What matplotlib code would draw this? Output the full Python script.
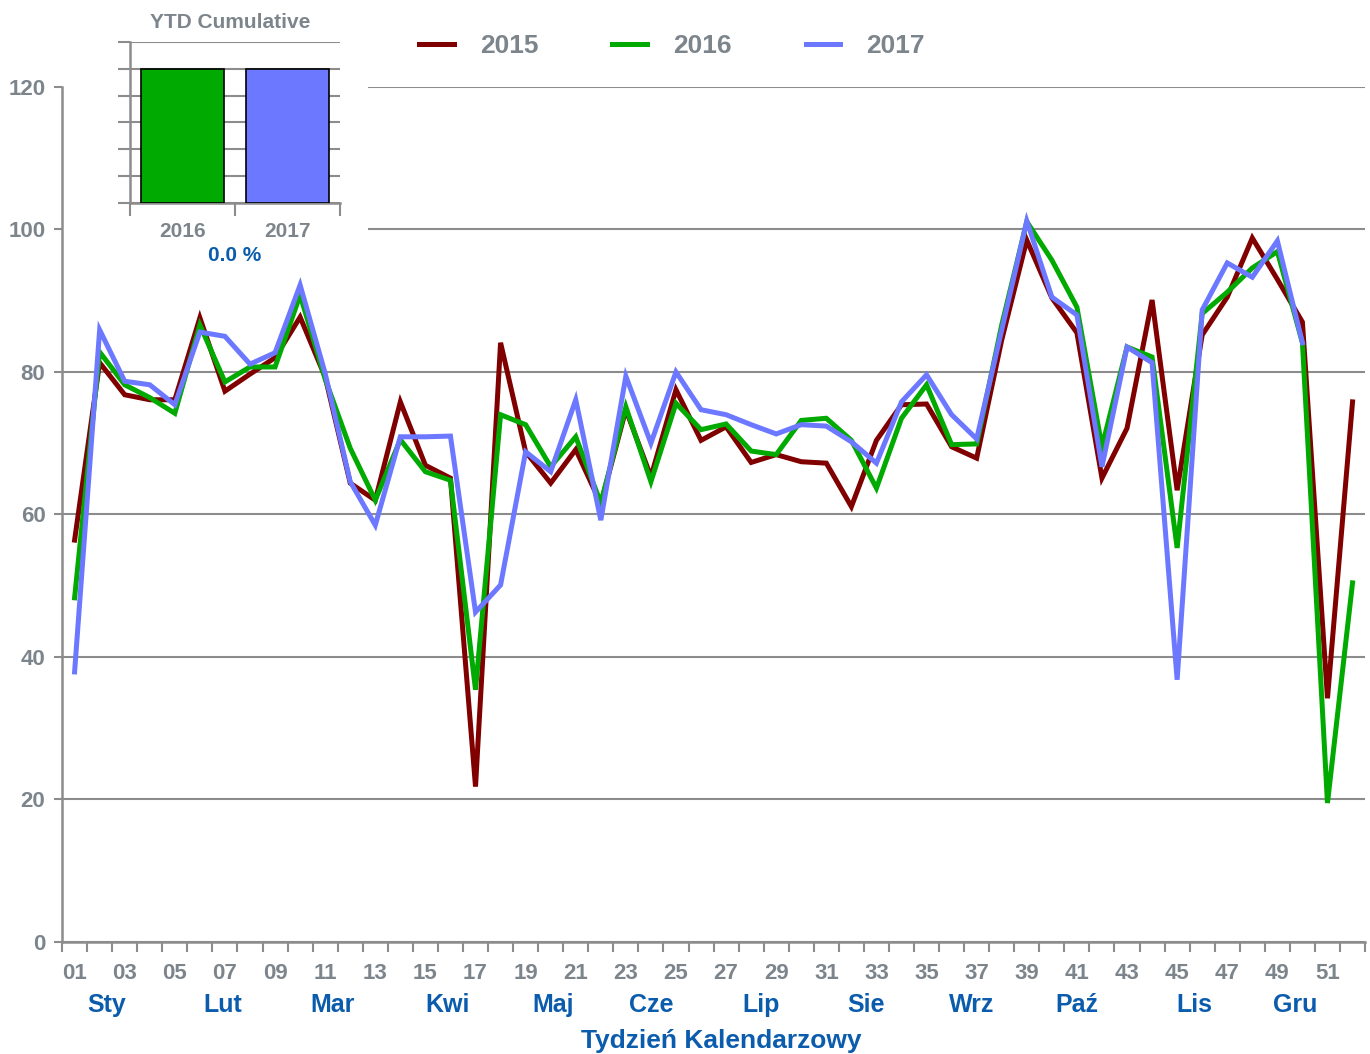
import matplotlib
matplotlib.use("Agg")
import matplotlib.pyplot as plt
from matplotlib import font_manager
from matplotlib.patches import Rectangle
import numpy as np

# weekly values (None = no data yet)
weeks = list(range(1, 53))
y2015 = [56.4, 81.3, 76.8, 76.1, 76.1, 87.6, 77.3, 79.7, 82.0, 87.7,
         79.3, 64.4, 62.0, 75.8, 66.9, 65.1, 21.8, 84.1, 68.8, 64.4,
         69.1, 61.5, 74.7, 65.3, 77.5, 70.4, 72.3, 67.3, 68.4, 67.4,
         67.2, 61.1, 70.4, 75.4, 75.5, 69.5, 67.9, 84.5, 98.5, 90.4,
         85.5, 65.1, 72.1, 90.1, 63.4, 85.2, 90.5, 98.8, 93.0, 87.0,
         34.2, 75.8]
y2016 = [48.3, 82.8, 78.2, 76.4, 74.2, 86.6, 78.6, 80.7, 80.7, 90.8,
         79.0, 69.3, 62.0, 70.5, 66.0, 64.8, 35.4, 74.0, 72.6, 66.7,
         70.9, 61.6, 75.1, 64.6, 75.6, 71.9, 72.7, 68.9, 68.4, 73.2,
         73.5, 70.4, 63.7, 73.5, 78.2, 69.8, 69.9, 86.6, 101.1, 95.7,
         89.1, 69.5, 83.5, 82.1, 55.3, 88.2, 91.2, 94.6, 96.9, 84.1,
         19.5, 50.4]
y2017 = [37.9, 85.9, 78.7, 78.2, 75.4, 85.6, 85.0, 81.1, 82.7, 92.2,
         79.8, 64.6, 58.5, 70.9, 70.9, 71.0, 46.3, 50.1, 68.8, 66.0,
         76.1, 59.2, 79.4, 70.0, 80.0, 74.7, 74.0, 72.6, 71.3, 72.6,
         72.4, 70.2, 67.2, 75.8, 79.6, 74.0, 70.6, 85.9, 101.2, 90.5,
         88.0, 66.7, 83.5, 81.3, 36.8, 88.7, 95.3, 93.3, 98.4, 84.1,
         None, None]

months = ["Sty", "Lut", "Mar", "Kwi", "Maj", "Cze", "Lip", "Sie", "Wrz", "Paź", "Lis", "Gru"]
month_pos = [2.3, 6.9, 11.3, 15.9, 20.1, 24.0, 28.4, 32.6, 36.8, 41.0, 45.7, 49.7]

ytd_labels = ["2016", "2017"]
ytd_values = [5.0, 5.0]
ytd_change = "0.0 %"

c2015 = "#800000"
c2016 = "#00aa00"
c2017 = "#6b78ff"
gray_txt = "#7d858c"
gray_ln = "#8c8c8c"
blue_txt = "#0b5cad"

names = {f.name for f in font_manager.fontManager.ttflist}
narrow = "Liberation Sans"
for cand in ["Liberation Sans Narrow", "DejaVu Sans Condensed"]:
    if cand in names:
        narrow = cand
        break
plt.rcParams["font.family"] = ["Liberation Sans", "DejaVu Sans"]
plt.rcParams["font.weight"] = "bold"

fig = plt.figure(figsize=(13.7, 10.54), dpi=100)
ax = fig.add_axes([0.0453, 0.1063, 0.9511, 0.8112])

def arr(v):
    return np.array([np.nan if x is None else x for x in v], dtype=float)

for vals, col, lab in [(y2015, c2015, "2015"), (y2016, c2016, "2016"), (y2017, c2017, "2017")]:
    ax.plot(weeks, arr(vals), color=col, lw=3.6, label=lab, zorder=3,
            solid_joinstyle="miter")

ax.set_xlim(0.5, 52.5)
ax.set_ylim(0, 120)
ax.set_axisbelow(True)
ax.yaxis.grid(True, color=gray_ln, lw=1.5)
ax.set_yticks(range(0, 121, 20))
for s in ["top", "right"]:
    ax.spines[s].set_visible(False)
for s in ["left", "bottom"]:
    ax.spines[s].set_color(gray_ln)
    ax.spines[s].set_linewidth(1.8)

ax.tick_params(axis="y", length=6, width=1.5, color=gray_ln, labelcolor=gray_txt,
               labelsize=16, pad=6)
odd = [w for w in weeks if w % 2 == 1]
ax.set_xticks(odd)
ax.set_xticklabels([f"{w:02d}" for w in odd], fontfamily=narrow, fontsize=16,
                   fontweight="bold", color=gray_txt)
ax.tick_params(axis="x", which="major", length=0, pad=15)
ax.set_xticks(np.arange(0.5, 53, 1), minor=True)
ax.tick_params(axis="x", which="minor", length=7, width=1.5, color=gray_ln)

for m, p in zip(months, month_pos):
    ax.text(p, -8.8, m, ha="center", va="center", fontsize=18, fontweight="bold",
            color=blue_txt, fontfamily=narrow)
ax.text(26.8, -13.9, "Tydzień Kalendarzowy", ha="center", va="center", fontsize=19,
        fontweight="bold", color=blue_txt, fontfamily=narrow)

# white area behind the inset
ax.add_patch(Rectangle((0.5, 95.5), 12.2, 25, facecolor="white", edgecolor="none",
                       zorder=1, clip_on=False))

ax.legend(loc="center", bbox_to_anchor=(0.4905, 0.956), bbox_transform=fig.transFigure,
          ncol=3, frameon=False, fontsize=19, handlelength=1.3, handletextpad=1.0,
          columnspacing=2.8, labelcolor=gray_txt)

# inset YTD bar chart
ins = fig.add_axes([0.0949, 0.8074, 0.1533, 0.1528])
ins.bar([0, 1], ytd_values, width=0.79, color=[c2016, c2017], edgecolor="black",
        linewidth=1.2, zorder=3)
ins.set_xlim(-0.5, 1.5)
ins.set_ylim(0, 6)
ins.set_yticks(range(0, 7))
ins.set_yticklabels([])
ins.set_axisbelow(True)
ins.yaxis.grid(True, color=gray_ln, lw=1.5)
ins.tick_params(axis="y", length=9, width=1.5, color=gray_ln)
ins.set_xticks([0, 1])
ins.set_xticklabels(ytd_labels, fontsize=15, fontweight="bold", color=gray_txt)
ins.tick_params(axis="x", which="major", length=0, pad=14)
ins.set_xticks([-0.5, 0.5, 1.5], minor=True)
ins.tick_params(axis="x", which="minor", length=9, width=1.5, color=gray_ln)
for s in ["top", "right"]:
    ins.spines[s].set_visible(False)
for s in ["left", "bottom"]:
    ins.spines[s].set_color(gray_ln)
    ins.spines[s].set_linewidth(1.8)
fig.text(0.168, 0.979, "YTD Cumulative", ha="center", va="center", fontsize=15,
         fontweight="bold", color=gray_txt)
fig.text(0.171, 0.758, ytd_change, ha="center", va="center", fontsize=15,
         fontweight="bold", color=blue_txt)

fig.savefig("out.png", dpi=100)
